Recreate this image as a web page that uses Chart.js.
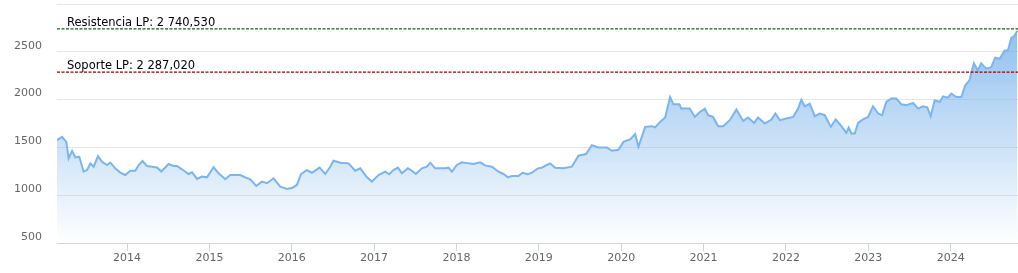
<!DOCTYPE html>
<html>
<head>
<meta charset="utf-8">
<script src="https://cdn.jsdelivr.net/npm/chart.js@4"></script>
<style>
  html, body { margin: 0; padding: 0; background: #fff; }
  canvas { display: block; }
</style>
</head>
<body>
<canvas id="goldChart" width="1018" height="273"></canvas>
<script>
// fechas en años decimales, precios
const fechas = [
    2013.150, 2013.211, 2013.263, 2013.291, 2013.333, 2013.373, 2013.421, 2013.473, 2013.515, 2013.555,
    2013.595, 2013.648, 2013.697, 2013.757, 2013.797, 2013.858, 2013.919, 2013.979, 2014.040, 2014.101,
    2014.141, 2014.189, 2014.243, 2014.303, 2014.364, 2014.416, 2014.505, 2014.566, 2014.607, 2014.667,
    2014.748, 2014.789, 2014.850, 2014.910, 2014.971, 2015.051, 2015.112, 2015.193, 2015.254, 2015.375,
    2015.436, 2015.496, 2015.569, 2015.638, 2015.699, 2015.779, 2015.860, 2015.942, 2016.002, 2016.063,
    2016.112, 2016.184, 2016.245, 2016.337, 2016.407, 2016.467, 2016.507, 2016.589, 2016.689, 2016.771,
    2016.831, 2016.913, 2016.973, 2017.053, 2017.135, 2017.183, 2017.235, 2017.289, 2017.337, 2017.410,
    2017.459, 2017.507, 2017.580, 2017.641, 2017.681, 2017.742, 2017.802, 2017.863, 2017.903, 2017.944,
    2018.005, 2018.066, 2018.146, 2018.206, 2018.288, 2018.348, 2018.430, 2018.510, 2018.570, 2018.624,
    2018.672, 2018.752, 2018.801, 2018.866, 2018.915, 2018.988, 2019.036, 2019.097, 2019.137, 2019.198,
    2019.299, 2019.400, 2019.481, 2019.574, 2019.643, 2019.723, 2019.825, 2019.886, 2019.966, 2020.027,
    2020.108, 2020.169, 2020.209, 2020.250, 2020.290, 2020.371, 2020.411, 2020.472, 2020.533, 2020.593,
    2020.633, 2020.706, 2020.730, 2020.832, 2020.893, 2020.954, 2021.015, 2021.055, 2021.115, 2021.176,
    2021.237, 2021.318, 2021.398, 2021.480, 2021.540, 2021.613, 2021.661, 2021.743, 2021.823, 2021.871,
    2021.925, 2022.005, 2022.087, 2022.147, 2022.187, 2022.228, 2022.289, 2022.350, 2022.410, 2022.471,
    2022.544, 2022.604, 2022.672, 2022.733, 2022.762, 2022.794, 2022.835, 2022.875, 2022.936, 2022.997,
    2023.057, 2023.118, 2023.167, 2023.218, 2023.279, 2023.340, 2023.401, 2023.461, 2023.543, 2023.604,
    2023.664, 2023.716, 2023.757, 2023.806, 2023.867, 2023.907, 2023.967, 2024.007, 2024.068, 2024.129,
    2024.177, 2024.228, 2024.281, 2024.329, 2024.370, 2024.430, 2024.491, 2024.541, 2024.595, 2024.655,
    2024.695, 2024.735, 2024.768, 2024.808
];

const precios = [
    1576, 1610, 1558, 1385, 1465, 1396, 1402, 1246, 1263, 1333,
    1298, 1409, 1350, 1316, 1340, 1281, 1235, 1211, 1256, 1256,
    1316, 1357, 1305, 1298, 1290, 1247, 1326, 1305, 1305, 1271,
    1222, 1240, 1170, 1195, 1187, 1292, 1229, 1167, 1211, 1211,
    1187, 1167, 1097, 1142, 1125, 1177, 1090, 1066, 1075, 1107,
    1219, 1263, 1235, 1288, 1222, 1298, 1360, 1340, 1333, 1256,
    1281, 1187, 1142, 1211, 1246, 1219, 1263, 1288, 1229, 1281,
    1256, 1222, 1281, 1298, 1340, 1281, 1281, 1281, 1288, 1246,
    1316, 1344, 1333, 1326, 1344, 1312, 1298, 1246, 1222, 1187,
    1201, 1201, 1235, 1219, 1235, 1281, 1288, 1316, 1333, 1288,
    1281, 1298, 1413, 1430, 1524, 1500, 1500, 1465, 1475, 1558,
    1583, 1639, 1507, 1610, 1715, 1722, 1710, 1767, 1813, 2027,
    1951, 1951, 1906, 1906, 1819, 1871, 1906, 1837, 1819, 1722,
    1722, 1785, 1896, 1777, 1813, 1756, 1813, 1750, 1792, 1854,
    1785, 1802, 1819, 1906, 1998, 1930, 1958, 1826, 1854, 1837,
    1715, 1792, 1722, 1652, 1708, 1646, 1646, 1756, 1792, 1819,
    1930, 1854, 1837, 1975, 2011, 2011, 1951, 1941, 1965, 1906,
    1930, 1920, 1826, 1993, 1975, 2034, 2020, 2062, 2027, 2027,
    2149, 2201, 2381, 2305, 2381, 2323, 2340, 2438, 2427, 2514,
    2514, 2646, 2660, 2719
];

const anios = [2014, 2015, 2016, 2017, 2018, 2019, 2020, 2021, 2022, 2023, 2024];
const ticksY = [500, 1000, 1500, 2000, 2500, 3000];

const resistencia = 2740.530;
const soporte = 2287.020;

const X_MIN = 2013.150;
const X_MAX = 2024.817;

function formatoNivel(v) {
    const partes = v.toFixed(3).split('.');
    const entero = partes[0].replace(/\B(?=(\d{3})+(?!\d))/g, ' ');
    return entero + ',' + partes[1];
}

const nivelLabels = {
    id: 'nivelLabels',
    afterDatasetsDraw(chart) {
        const { ctx, chartArea, scales } = chart;
        ctx.save();
        ctx.font = '11.5px "DejaVu Sans", Verdana, sans-serif';
        ctx.fillStyle = '#000';
        ctx.textAlign = 'left';
        ctx.textBaseline = 'alphabetic';
        [['Resistencia LP: ', resistencia], ['Soporte LP: ', soporte]].forEach(([txt, v]) => {
            const y = scales.y.getPixelForValue(v);
            ctx.fillText(txt + formatoNivel(v), chartArea.left + 10, y - 3);
        });
        ctx.restore();
    }
};

const ctx = document.getElementById('goldChart');

new Chart(ctx, {
    type: 'line',
    data: {
        datasets: [
            {
                label: 'Resistencia LP',
                data: [{ x: X_MIN, y: resistencia }, { x: X_MAX, y: resistencia }],
                borderColor: '#1d5c1d',
                borderWidth: 1.3,
                borderDash: [3, 1.5],
                pointRadius: 0,
                fill: false,
                order: 0
            },
            {
                label: 'Soporte LP',
                data: [{ x: X_MIN, y: soporte }, { x: X_MAX, y: soporte }],
                borderColor: '#990000',
                borderWidth: 1.3,
                borderDash: [3, 1.5],
                pointRadius: 0,
                fill: false,
                order: 0
            },
            {
                label: 'Oro',
                data: fechas.map((f, i) => ({ x: f, y: precios[i] })),
                borderColor: '#7cb5ec',
                borderWidth: 2,
                pointRadius: 0,
                tension: 0,
                fill: 'start',
                backgroundColor: context => {
                    const { ctx, chartArea } = context.chart;
                    if (!chartArea) return 'rgba(124,181,236,0.4)';
                    const g = ctx.createLinearGradient(0, chartArea.top, 0, chartArea.bottom);
                    g.addColorStop(0, 'rgba(124,181,236,0.95)');
                    g.addColorStop(1, 'rgba(124,181,236,0.0)');
                    return g;
                },
                order: 1
            }
        ]
    },
    options: {
        responsive: false,
        animation: false,
        devicePixelRatio: 1,
        layout: { padding: { top: 4, right: 0, left: 0, bottom: 0 } },
        plugins: {
            legend: { display: false },
            tooltip: { enabled: false }
        },
        scales: {
            x: {
                type: 'linear',
                min: X_MIN,
                max: X_MAX,
                afterBuildTicks: scale => { scale.ticks = anios.map(v => ({ value: v })); },
                afterFit: scale => {
                    scale.height = 30;
                    scale.paddingLeft = 0;
                    scale.paddingRight = 0;
                },
                ticks: {
                    color: '#666',
                    font: { family: '"DejaVu Sans", Verdana, sans-serif', size: 11 },
                    padding: 1,
                    maxRotation: 0,
                    autoSkip: false,
                    callback: v => String(v)
                },
                grid: {
                    drawOnChartArea: false,
                    drawTicks: true,
                    tickLength: 8,
                    color: '#ccd6eb'
                },
                border: { display: true, color: '#ccd6eb', width: 1 }
            },
            y: {
                type: 'linear',
                min: 500,
                max: 3000,
                afterBuildTicks: scale => { scale.ticks = ticksY.map(v => ({ value: v })); },
                afterFit: scale => {
                    scale.width = 57;
                    scale.paddingTop = 0;
                    scale.paddingBottom = 0;
                },
                ticks: {
                    color: '#666',
                    font: { family: '"DejaVu Sans", Verdana, sans-serif', size: 11 },
                    padding: 15,
                    labelOffset: -6,
                    callback: v => (v === 3000 ? '' : String(v))
                },
                grid: {
                    color: '#e6e6e6',
                    drawTicks: false
                },
                border: { display: false }
            }
        }
    },
    plugins: [nivelLabels]
});
</script>
</body>
</html>
